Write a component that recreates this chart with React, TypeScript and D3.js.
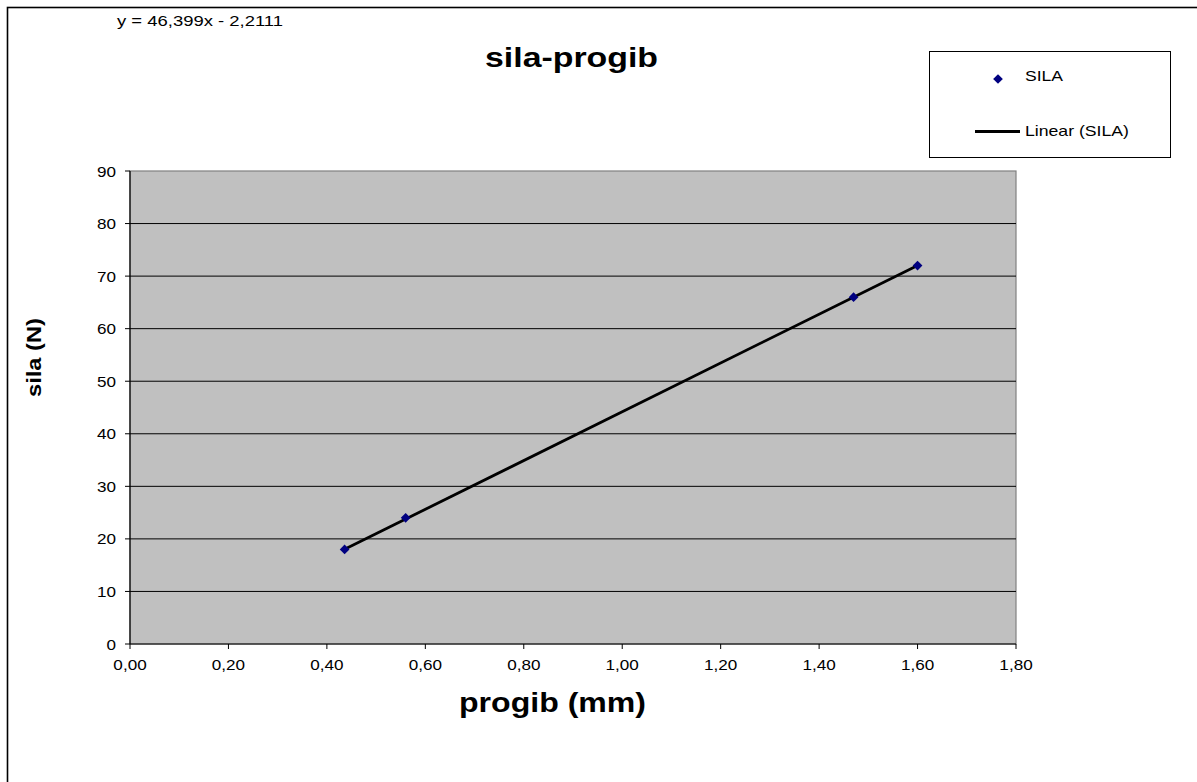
import React from "react";
import * as d3 from "d3";

const progib = [0.436, 0.56, 1.47, 1.6];
const sila = [18, 24, 66, 72];
const xTicks = [0, 0.2, 0.4, 0.6, 0.8, 1.0, 1.2, 1.4, 1.6, 1.8];
const yTicks = [0, 10, 20, 30, 40, 50, 60, 70, 80, 90];
const slope = 46.399;
const intercept = -2.2111;
const equationLabel = "y = 46,399x - 2,2111";
const titleLabel = "sila-progib";
const xLabel = "progib (mm)";
const yLabel = "sila (N)";
const seriesName = "SILA";
const trendName = "Linear (SILA)";

const W = 1197;
const H = 782;
const FONT = "'Liberation Sans', Arial, sans-serif";
const SX = 1.14;

function T(props: {
  x: number;
  y: number;
  size: number;
  anchor?: "start" | "middle" | "end";
  bold?: boolean;
  rotate?: number;
  children: React.ReactNode;
}) {
  const { x, y, size, anchor = "start", bold = false, rotate = 0, children } = props;
  return (
    <text
      transform={`translate(${x},${y}) rotate(${rotate}) scale(${SX},1)`}
      fontSize={size}
      fontWeight={bold ? "bold" : "normal"}
      textAnchor={anchor}
    >
      {children}
    </text>
  );
}

export default function App() {
  const x = d3.scaleLinear().domain([0, 1.8]).range([130, 1016]);
  const y = d3.scaleLinear().domain([0, 90]).range([644, 171]);
  const fmt = (v: number) => v.toFixed(2).replace(".", ",");
  const xMin = d3.min(progib) as number;
  const xMax = d3.max(progib) as number;
  const line = d3.line<number>().x((d) => x(d)).y((d) => y(slope * d + intercept));
  const diamond = d3.symbol().type(d3.symbolDiamond2).size(60)() as string;

  return (
    <svg
      width={W}
      height={H}
      style={{ position: "absolute", left: 0, top: 0, display: "block" }}
      fontFamily={FONT}
    >
      <rect x={0} y={0} width={W} height={H} fill="#fff" />
      <rect x={7.5} y={7.5} width={W + 20} height={H + 20} fill="none" stroke="#000" strokeWidth={1.6} />

      <text x={117} y={26} fontSize={15} textLength={166} lengthAdjust="spacingAndGlyphs">
        {equationLabel}
      </text>
      <text x={485} y={67} fontSize={28} fontWeight="bold" textLength={173} lengthAdjust="spacingAndGlyphs">
        {titleLabel}
      </text>

      <rect x={x(0)} y={y(90)} width={x(1.8) - x(0)} height={y(0) - y(90)} fill="#c0c0c0" stroke="#808080" strokeWidth={1.2} />
      {yTicks.filter((t) => t > 0 && t < 90).map((t) => (
        <line key={t} x1={x(0)} x2={x(1.8)} y1={y(t)} y2={y(t)} stroke="#000" strokeWidth={1} />
      ))}
      <line x1={x(0)} x2={x(0)} y1={y(0)} y2={y(90)} stroke="#000" strokeWidth={1.2} />
      <line x1={x(0)} x2={x(1.8)} y1={y(0)} y2={y(0)} stroke="#000" strokeWidth={1.2} />

      {yTicks.map((t) => (
        <g key={t}>
          <line x1={x(0) - 5} x2={x(0)} y1={y(t)} y2={y(t)} stroke="#000" />
          <T x={116} y={y(t) + 5.5} size={15} anchor="end">{t}</T>
        </g>
      ))}
      {xTicks.map((t) => (
        <g key={t}>
          <line x1={x(t)} x2={x(t)} y1={y(0)} y2={y(0) + 5} stroke="#000" />
          <T x={x(t)} y={670} size={15} anchor="middle">{fmt(t)}</T>
        </g>
      ))}

      <path d={line([xMin, xMax]) as string} fill="none" stroke="#000" strokeWidth={2.8} />
      {progib.map((p, i) => (
        <path key={i} d={diamond} transform={`translate(${x(p)},${y(sila[i])})`} fill="#000080" />
      ))}

      <text x={459} y={712} fontSize={27} fontWeight="bold" textLength={187} lengthAdjust="spacingAndGlyphs">
        {xLabel}
      </text>
      <text
        transform={`translate(41,397) rotate(-90)`}
        fontSize={21}
        fontWeight="bold"
        textLength={79}
        lengthAdjust="spacingAndGlyphs"
      >
        {yLabel}
      </text>

      <rect x={929.5} y={51.5} width={241} height={106} fill="#fff" stroke="#000" strokeWidth={1} />
      <path d={diamond} transform="translate(998,79)" fill="#000080" />
      <text x={1025} y={81} fontSize={14.5} textLength={38} lengthAdjust="spacingAndGlyphs">{seriesName}</text>
      <line x1={975} x2={1020} y1={131.5} y2={131.5} stroke="#000" strokeWidth={3} />
      <text x={1025} y={136} fontSize={14.5} textLength={104} lengthAdjust="spacingAndGlyphs">{trendName}</text>
    </svg>
  );
}
